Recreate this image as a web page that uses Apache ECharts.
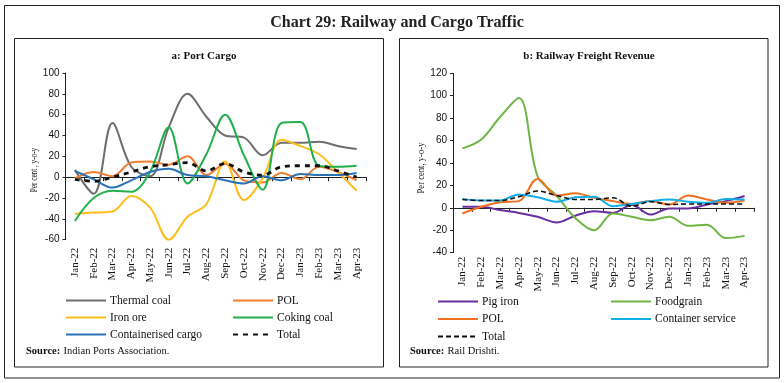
<!DOCTYPE html>
<html><head><meta charset="utf-8">
<script src="https://cdn.jsdelivr.net/npm/echarts@6/dist/echarts.min.js"></script>
<style>html,body{margin:0;padding:0;background:#fff}#c{width:784px;height:383px}</style>
</head><body><div id="c"></div>
<script>
const categories = ['Jan-22','Feb-22','Mar-22','Apr-22','May-22','Jun-22','Jul-22','Aug-22','Sep-22','Oct-22','Nov-22','Dec-22','Jan-23','Feb-23','Mar-23','Apr-23'];
// Panel a: Port Cargo (per cent, y-o-y)
const thermalCoal   = [7, -16, 52, 10, 1, 48, 80, 58, 40, 38, 21, 33, 33, 34, 30, 27];
const portPOL       = [-1, 5, 1, 14, 15, 12, 20, 2, 13, -3, -5, 4, -2, 10, 5, -3];
const ironOre       = [-35, -34, -33, -18, -29, -60, -38, -26, 15, -22, -1, 36, 30, 22, 5, -13];
const cokingCoal    = [-42, -20, -13, -14, 5, 48, -6, 22, 60, 21, -12, 52, 53, 11, 10, 11];
const containerised = [6, -2, -10, -3, 5, 8, 2, 1, -3, -6, 1, -3, 3, 2, 2, 4];
const portTotal     = [-2, -4, 0, 5, 10, 12, 14, 6, 13, 5, 2, 10, 11, 11, 6, 0];
// Panel b: Railway Freight Revenue (per cent, y-o-y)
const pigIron          = [1, 1, -2, -4.5, -8, -13, -7, -3, -4.5, 2.5, -6, -0.5, -0.5, 3, 6, 10.5];
const foodgrain        = [53, 61, 81, 98, 28, 11, -9, -20, -5, -8, -11, -8, -16, -15, -27, -25];
const railPOL          = [-5, 1, 5, 6, 26, 11, 13, 9, 6, 3.5, 6, 3, 11, 7.5, 4.5, 6.5];
const containerService = [8, 6.5, 6.5, 12, 9.5, 5.5, 9.5, 10, 1.5, 3.5, 6, 7.5, 5.5, 4.5, 8, 7.5];
const railTotal        = [7.5, 6.5, 6.5, 10, 15, 11, 7.5, 7.5, 9, 1.5, 5.5, 3, 3.5, 3.5, 3.5, 3.5];
const leftTicks  = {min: -60, max: 100, interval: 20};
const rightTicks = {min: -40, max: 120, interval: 20};

const SERIF = '"Liberation Serif", "DejaVu Serif", serif';
const SANS = '"Liberation Sans", Arial, sans-serif';
const SUF = ' ';  // suffix for panel-b duplicate names

function labelAxis(grid, margin) {
  return {type: 'category', gridIndex: grid, data: categories, boundaryGap: true, position: 'bottom',
    axisLine: {show: false, onZero: false}, axisTick: {show: false},
    axisLabel: {rotate: 90, interval: 0, margin: margin, fontFamily: SERIF, fontSize: 11, color: '#111'}};
}
function zeroAxis(grid) {
  return {type: 'category', gridIndex: grid, data: categories, boundaryGap: true, position: 'bottom',
    axisLine: {show: true, onZero: true, lineStyle: {color: '#222', width: 1}},
    axisTick: {show: true, interval: 0, length: 4, lineStyle: {color: '#222'}},
    axisLabel: {show: false}};
}
function valAxis(grid, t) {
  return {type: 'value', gridIndex: grid, min: t.min, max: t.max, interval: t.interval,
    axisLine: {show: true, lineStyle: {color: '#222'}}, axisTick: {show: true, length: 3, lineStyle: {color: '#222'}},
    splitLine: {show: false},
    axisLabel: {fontFamily: SANS, fontSize: 10, color: '#111', margin: 6}};
}
function line(name, data, color, xi, yi, opts) {
  opts = opts || {};
  return {name: name, type: 'line', xAxisIndex: xi, yAxisIndex: yi, data: data, smooth: 0.35,
    symbol: 'none', lineStyle: Object.assign({color: color, width: 2}, opts), itemStyle: {color: color}, z: opts.z || 2};
}

const series = [
  line('Thermal coal', thermalCoal, '#6e6e6e', 0, 0),
  line('POL', portPOL, '#ef7d32', 0, 0),
  line('Iron ore', ironOre, '#fdbd1c', 0, 0),
  line('Coking coal', cokingCoal, '#21b04b', 0, 0),
  line('Containerised cargo', containerised, '#2a72b8', 0, 0),
  line('Total', portTotal, '#111', 0, 0, {type: [5, 5], width: 2.8, z: 3}),
  line('Pig iron', pigIron, '#6a2f9e', 2, 1),
  line('Foodgrain', foodgrain, '#6fb545', 2, 1),
  line('POL' + SUF, railPOL, '#f2711f', 2, 1),
  line('Container service', containerService, '#12aee8', 2, 1),
  line('Total' + SUF, railTotal, '#111', 2, 1, {type: [5, 3], width: 1.6, z: 3})
];

const legendSpots = [
  ['Thermal coal', 65, 300.5], ['POL', 232, 300.5],
  ['Iron ore', 65, 317.5], ['Coking coal', 232, 317.5],
  ['Containerised cargo', 65, 334.5], ['Total', 232, 334.5],
  ['Pig iron', 437, 301.5], ['Foodgrain', 610, 301.5],
  ['POL' + SUF, 437, 319], ['Container service', 610, 319],
  ['Total' + SUF, 437, 336.5]
];
const legends = legendSpots.map(s => ({
  data: [s[0]], left: s[1], top: s[2] - 6, padding: 0, itemWidth: 40, itemHeight: 12, itemGap: 0,
  selectedMode: false, formatter: n => n.trim(), itemStyle: {opacity: 0},
  textStyle: {fontFamily: SERIF, fontSize: 11.5, color: '#111', padding: [0, 0, 0, -1]}
}));

const rect = (x, y, w, h) => ({type: 'rect', shape: {x: x, y: y, width: w, height: h}, style: {fill: 'none', stroke: '#222', lineWidth: 1}, silent: true});
const txt = (x, y, rich, text) => ({type: 'text', x: x, y: y, style: {text: text, rich: rich, fill: '#111'}, silent: true});
const yName = (x, y, text, sx) => ({type: 'text', x: x, y: y, rotation: Math.PI / 2, scaleX: sx, silent: true,
  style: {text: text, fontFamily: SERIF, fontSize: 10, fill: '#111', align: 'center', verticalAlign: 'middle'}});
const srcRich = {b: {fontFamily: SERIF, fontWeight: 'bold', fontSize: 10.5, fill: '#111'}, r: {fontFamily: SERIF, fontSize: 10.5, fill: '#111'}};

const option = {
  animation: false,
  backgroundColor: '#fff',
  title: [
    {text: 'Chart 29: Railway and Cargo Traffic', left: 392, top: 10, textAlign: 'center',
      textStyle: {fontFamily: SERIF, fontWeight: 'bold', fontSize: 16, color: '#222'}},
    {text: 'a: Port Cargo', left: 199, top: 46, textAlign: 'center',
      textStyle: {fontFamily: SERIF, fontWeight: 'bold', fontSize: 11, color: '#111'}},
    {text: 'b: Railway Freight Revenue', left: 584, top: 46, textAlign: 'center',
      textStyle: {fontFamily: SERIF, fontWeight: 'bold', fontSize: 11, color: '#111'}}
  ],
  grid: [
    {left: 65.5, right: 784 - 366, top: 73, bottom: 383 - 239.7},
    {left: 453, right: 784 - 754, top: 73.3, bottom: 383 - 252.7}
  ],
  xAxis: [labelAxis(0, 8), zeroAxis(0), labelAxis(1, 4), zeroAxis(1)],
  yAxis: [valAxis(0, leftTicks), valAxis(1, rightTicks)],
  legend: legends,
  series: series,
  graphic: [
    rect(4.5, 5.5, 775, 372.5),
    rect(14.5, 38.5, 369, 328.5),
    rect(399.5, 38.5, 368.5, 328.5),
    yName(34, 170, 'Per cent , y-o-y', 0.72),
    yName(421, 168, 'Per cent, y-o-y', 0.86),
    txt(26, 345, srcRich, '{b|Source:} {r|Indian Ports Association.}'),
    txt(410, 345, srcRich, '{b|Source:} {r|Rail Drishti.}')
  ]
};
const chart = echarts.init(document.getElementById('c'), null, {renderer: 'canvas'});
chart.setOption(option);
</script></body></html>
